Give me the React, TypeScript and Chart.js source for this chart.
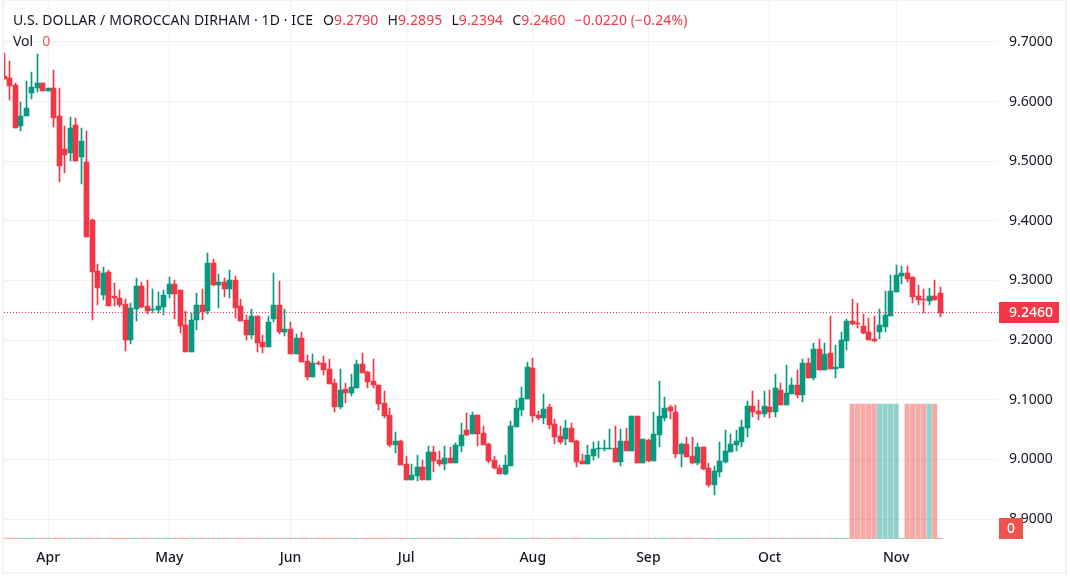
import { useEffect, useRef } from "react";
import { Chart, registerables } from "chart.js";

Chart.register(...registerables);

const days = [
  "Mar 20","Mar 21","Mar 24","Mar 25","Mar 26","Mar 27","Mar 28","Mar 31",
  "Apr 1","Apr 2","Apr 3","Apr 4","Apr 7","Apr 8","Apr 9","Apr 10","Apr 11","Apr 14","Apr 15","Apr 16","Apr 17","Apr 18","Apr 21","Apr 22","Apr 23","Apr 24","Apr 25","Apr 28","Apr 29","Apr 30",
  "May 1","May 2","May 5","May 6","May 7","May 8","May 9","May 12","May 13","May 14","May 15","May 16","May 19","May 20","May 21","May 22","May 23","May 26","May 27","May 28","May 29","May 30",
  "Jun 2","Jun 3","Jun 4","Jun 5","Jun 6","Jun 9","Jun 10","Jun 11","Jun 12","Jun 13","Jun 16","Jun 17","Jun 18","Jun 19","Jun 20","Jun 23","Jun 24","Jun 25","Jun 26","Jun 27","Jun 30",
  "Jul 1","Jul 2","Jul 3","Jul 4","Jul 7","Jul 8","Jul 9","Jul 10","Jul 11","Jul 14","Jul 15","Jul 16","Jul 17","Jul 18","Jul 21","Jul 22","Jul 23","Jul 24","Jul 25","Jul 28","Jul 29","Jul 30","Jul 31",
  "Aug 1","Aug 4","Aug 5","Aug 6","Aug 7","Aug 8","Aug 11","Aug 12","Aug 13","Aug 14","Aug 15","Aug 18","Aug 19","Aug 20","Aug 21","Aug 22","Aug 25","Aug 26","Aug 27","Aug 28","Aug 29",
  "Sep 1","Sep 2","Sep 3","Sep 4","Sep 5","Sep 8","Sep 9","Sep 10","Sep 11","Sep 12","Sep 15","Sep 16","Sep 17","Sep 18","Sep 19","Sep 22","Sep 23","Sep 24","Sep 25","Sep 26","Sep 29","Sep 30",
  "Oct 1","Oct 2","Oct 3","Oct 6","Oct 7","Oct 8","Oct 9","Oct 10","Oct 13","Oct 14","Oct 15","Oct 16","Oct 17","Oct 20","Oct 21","Oct 22","Oct 23","Oct 24","Oct 27","Oct 28","Oct 29","Oct 30","Oct 31",
  "Nov 3","Nov 4","Nov 5","Nov 6","Nov 7","Nov 10","Nov 11","Nov 12","Nov 13",
];

const opens = [
  9.6430,9.6396,9.6279,9.5592,9.5760,9.6145,9.6229,9.6312,
  9.6179,9.6229,9.5760,9.5206,9.5139,9.5609,9.5072,9.4988,9.4016,9.3161,9.2759,9.3144,9.2742,9.2709,9.2608,9.2004,9.2524,9.2910,9.2574,9.2507,9.2507,9.2558,
  9.2776,9.2943,9.2843,9.2256,9.1803,9.2340,9.2591,9.2491,9.3295,9.2926,9.2977,9.2860,9.3010,9.2574,9.2340,9.2088,9.2407,9.1971,9.1887,9.2357,9.2591,9.2138,
  9.2188,9.1770,9.2038,9.1652,9.1384,9.1619,9.1619,9.1518,9.1283,9.0881,9.1183,9.1116,9.1200,9.1602,9.1468,9.1317,9.1250,9.0948,9.0747,9.0244,9.0311,
  8.9926,8.9657,8.9724,8.9875,8.9657,9.0127,8.9993,8.9926,9.0026,8.9943,9.0227,9.0496,9.0429,9.0747,9.0445,9.0261,8.9993,8.9858,8.9758,8.9892,9.0546,9.0831,9.1016,
  9.1535,9.0747,9.0697,9.0881,9.0596,9.0395,9.0345,9.0529,9.0311,8.9976,8.9926,9.0060,9.0177,9.0177,9.0177,9.0194,8.9959,9.0311,9.0144,9.0730,8.9943,
  9.0328,8.9976,9.0412,9.0697,9.0881,9.0797,9.0093,9.0261,9.0060,8.9943,9.0210,8.9858,8.9573,8.9791,8.9959,9.0127,9.0244,9.0294,9.0529,9.0898,9.0814,9.0764,
  9.0881,9.0797,9.1166,9.0915,9.1099,9.1250,9.1083,9.1619,9.1367,9.1853,9.1501,9.1786,9.1518,9.1535,9.1987,9.2323,9.2290,9.2239,9.2138,9.2021,9.2138,9.2222,9.2407,
  9.2809,9.3077,9.3127,9.3060,9.2742,9.2692,9.2658,9.2742,9.2790,
];

const highs = [
  9.6815,9.6682,9.6312,9.5994,9.6346,9.6497,9.6798,9.6312,
  9.6229,9.6531,9.6229,9.5592,9.5743,9.5726,9.5558,9.5508,9.4033,9.3278,9.3228,9.3178,9.2960,9.2843,9.2692,9.2625,9.3044,9.2977,9.3010,9.2860,9.2809,9.2843,
  9.3060,9.3010,9.2843,9.2491,9.2457,9.2792,9.2860,9.3463,9.3362,9.3111,9.3044,9.3178,9.3077,9.2692,9.2424,9.2524,9.2407,9.2088,9.2407,9.3127,9.2993,9.2524,
  9.2306,9.2105,9.2138,9.1753,9.1770,9.1652,9.1736,9.1686,9.1350,9.1518,9.1283,9.1434,9.1669,9.1786,9.1484,9.1686,9.1250,9.1149,9.0864,9.0462,9.0328,
  9.0060,8.9926,9.0076,8.9993,9.0227,9.0227,9.0144,9.0227,9.0210,9.0278,9.0613,9.0781,9.0797,9.0747,9.0563,9.0278,9.0060,8.9909,9.0076,9.0646,9.0998,9.1217,9.1635,
  9.1702,9.0814,9.1099,9.0931,9.0680,9.0563,9.0663,9.0613,9.0328,9.0093,9.0244,9.0294,9.0311,9.0328,9.0512,9.0563,9.0512,9.0529,9.0730,9.0730,9.0345,
  9.0345,9.0797,9.1317,9.1049,9.0915,9.0915,9.0278,9.0378,9.0378,9.0278,9.0210,8.9943,8.9892,9.0294,9.0496,9.0429,9.0496,9.0663,9.0982,9.1149,9.0998,9.1149,
  9.1166,9.1434,9.1283,9.1585,9.1367,9.1501,9.1686,9.1702,9.1954,9.2021,9.1954,9.2407,9.1921,9.2138,9.2357,9.2692,9.2625,9.2440,9.2373,9.2407,9.2524,9.2826,9.3094,
  9.3262,9.3245,9.3245,9.3060,9.2926,9.2860,9.2876,9.3010,9.2895,
];

const lows = [
  9.6380,9.6028,9.5558,9.5508,9.5760,9.6044,9.6162,9.6179,
  9.6179,9.5575,9.4653,9.4804,9.5005,9.5005,9.4620,9.3731,9.2340,9.2591,9.2675,9.2574,9.2574,9.2558,9.1820,9.1937,9.2323,9.2541,9.2440,9.2457,9.2457,9.2424,
  9.2709,9.2357,9.2122,9.1803,9.1803,9.2172,9.2340,9.2440,9.2910,9.2541,9.2725,9.2709,9.2373,9.2323,9.2004,9.2021,9.1803,9.1786,9.1887,9.2306,9.2105,9.2071,
  9.1770,9.1770,9.1635,9.1333,9.1384,9.1585,9.1417,9.1267,9.0797,9.0847,9.0948,9.1066,9.1200,9.1451,9.1200,9.1200,9.0831,9.0697,9.0210,9.0110,8.9909,
  8.9657,8.9657,8.9640,8.9657,8.9657,8.9791,8.9892,8.9825,8.9943,8.9943,9.0127,9.0395,9.0429,9.0227,9.0244,8.9943,8.9842,8.9758,8.9741,8.9892,9.0546,9.0730,9.1016,
  9.0630,9.0663,9.0596,9.0512,9.0261,9.0261,9.0244,9.0294,8.9875,8.9926,8.9926,8.9993,9.0026,9.0144,9.0177,8.9959,8.9892,9.0144,9.0144,8.9943,8.9943,
  8.9959,8.9976,9.0210,9.0646,9.0680,9.0026,8.9875,9.0043,8.9926,8.9909,8.9825,8.9540,8.9406,8.9708,8.9943,9.0127,9.0144,9.0210,9.0378,9.0714,9.0663,9.0714,
  9.0697,9.0714,9.0915,9.0915,9.1099,9.1032,9.0965,9.1367,9.1333,9.1501,9.1501,9.1518,9.1367,9.1535,9.1837,9.2256,9.2205,9.2105,9.2004,9.1971,9.2021,9.2138,9.2407,
  9.2809,9.2943,9.2977,9.2625,9.2591,9.2457,9.2591,9.2675,9.2394,
];

const closes = [
  9.6380,9.6262,9.5558,9.5760,9.5894,9.6246,9.6312,9.6179,
  9.6229,9.5726,9.4921,9.5106,9.5558,9.5005,9.5341,9.3731,9.3144,9.2876,9.3127,9.2574,9.2709,9.2591,9.2004,9.2541,9.2910,9.2558,9.2491,9.2524,9.2574,9.2759,
  9.2943,9.2776,9.2239,9.1803,9.2340,9.2591,9.2474,9.3295,9.2926,9.2977,9.2860,9.3010,9.2541,9.2323,9.2088,9.2407,9.1954,9.1887,9.2306,9.2591,9.2138,9.2188,
  9.1770,9.2038,9.1635,9.1384,9.1619,9.1602,9.1501,9.1267,9.0881,9.1166,9.1116,9.1217,9.1602,9.1451,9.1300,9.1250,9.0931,9.0730,9.0244,9.0311,8.9909,
  8.9657,8.9741,8.9875,8.9657,9.0127,8.9976,8.9926,9.0026,8.9943,9.0244,9.0412,9.0412,9.0747,9.0429,9.0244,8.9976,8.9858,8.9758,8.9909,9.0563,9.0864,9.1032,9.1552,
  9.0730,9.0697,9.0847,9.0579,9.0378,9.0294,9.0529,9.0294,8.9959,8.9926,9.0076,9.0177,9.0194,9.0194,9.0194,8.9959,9.0311,9.0144,9.0730,8.9943,9.0345,
  8.9976,9.0429,9.0730,9.0864,9.0814,9.0093,9.0261,9.0043,8.9943,9.0210,8.9842,8.9573,8.9808,8.9976,9.0144,9.0261,9.0311,9.0546,9.0898,9.0797,9.0764,9.0898,
  9.0797,9.1200,9.0915,9.1116,9.1250,9.1083,9.1619,9.1367,9.1853,9.1501,9.1770,9.1518,9.1552,9.2004,9.2323,9.2273,9.2273,9.2122,9.2004,9.1987,9.2256,9.2424,9.2826,
  9.3094,9.3127,9.3027,9.2725,9.2675,9.2675,9.2742,9.2675,9.2460,
];

const volumes = [
  0,0,0,0,0,0,0,0,
  0,0,0,0,0,0,0,0,0,0,0,0,0,0,0,0,0,0,0,0,0,0,
  0,0,0,0,0,0,0,0,0,0,0,0,0,0,0,0,0,0,0,0,0,0,
  0,0,0,0,0,0,0,0,0,0,0,0,0,0,0,0,0,0,0,0,0,
  0,0,0,0,0,0,0,0,0,0,0,0,0,0,0,0,0,0,0,0,0,0,0,
  0,0,0,0,0,0,0,0,0,0,0,0,0,0,0,0,0,0,0,0,0,
  0,0,0,0,0,0,0,0,0,0,0,0,0,0,0,0,0,0,0,0,0,0,
  0,0,0,0,0,0,0,0,0,0,0,0,0,0,0,1,1,1,1,1,1,1,1,
  1,0,1,1,1,1,1,1,0,
];

const UP = "#089981";
const DOWN = "#F23645";
const VOL_UP = "rgba(38,166,154,0.5)";
const VOL_DOWN = "rgba(239,83,80,0.5)";
const GRID = "#f0f1f3";
const TEXT = "#131722";
const FONT = "'Noto Sans', sans-serif";

// empty slots to the right of the last bar, like the chart's free space
const labels = [...days, ...Array(10).fill("")];
const isUp = (i: number) => closes[i] >= opens[i];

// candles sit on whole pixels, otherwise the 1px wicks go blurry
const snapBars = {
  id: "snapBars",
  beforeDatasetsDraw(chart: any) {
    chart.data.datasets.forEach((ds: any, d: number) => {
      chart.getDatasetMeta(d).data.forEach((el: any) => {
        if (ds.label !== "Volume") el.x = Math.floor(el.x) + 0.5;
        el.y = Math.round(el.y);
        el.base = Math.round(el.base);
        if (el.y === el.base) el.base = el.y + 1;
      });
    });
  },
};

const priceTags = {
  id: "priceTags",
  afterDatasetsDraw(chart: any) {
    const { ctx, chartArea, scales } = chart;
    const y = Math.floor(scales.y.getPixelForValue(closes[closes.length - 1])) + 0.5;
    ctx.save();
    ctx.strokeStyle = DOWN;
    ctx.setLineDash([1, 2]);
    ctx.beginPath();
    ctx.moveTo(Math.round(chartArea.left), y);
    ctx.lineTo(Math.round(chartArea.right), y);
    ctx.stroke();
    ctx.restore();
  },
  afterDraw(chart: any) {
    const { ctx, chartArea, scales } = chart;
    const last = closes[closes.length - 1];
    const y = scales.y.getPixelForValue(last);
    ctx.save();
    ctx.fillStyle = DOWN;
    ctx.fillRect(chartArea.right + 1, Math.round(y - 10.5), 60, 21);
    ctx.fillStyle = "#fff";
    ctx.font = "500 14px " + FONT;
    ctx.textAlign = "center";
    ctx.textBaseline = "middle";
    ctx.fillText(last.toFixed(4), chartArea.right + 33, y + 0.5);
    const bottom = scales.yVol.getPixelForValue(0);
    ctx.fillStyle = "#ef5350";
    ctx.fillRect(chartArea.right + 1, bottom - 21, 24, 21);
    ctx.fillStyle = "#fff";
    ctx.fillText(String(volumes[volumes.length - 1]), chartArea.right + 13, bottom - 10);
    ctx.restore();
  },
};

const red = { color: DOWN };
const gap = { marginLeft: 9 };

export default function App() {
  const canvasRef = useRef<HTMLCanvasElement>(null);

  useEffect(() => {
    if (!canvasRef.current) return;
    const chart = new Chart(canvasRef.current, {
      type: "bar",
      data: {
        labels,
        datasets: [
          {
            label: "Volume",
            data: volumes,
            yAxisID: "yVol",
            grouped: false,
            order: 3,
            barThickness: 4.5,
            minBarLength: 1,
            backgroundColor: volumes.map((_, i) => (isUp(i) ? VOL_UP : VOL_DOWN)),
          },
          {
            label: "Wick",
            data: highs.map((h, i) => [lows[i], h]),
            yAxisID: "y",
            grouped: false,
            order: 2,
            barThickness: 1,
            backgroundColor: highs.map((_, i) => (isUp(i) ? UP : DOWN)),
          },
          {
            label: "Body",
            data: opens.map((o, i) => [o, closes[i]]),
            yAxisID: "y",
            grouped: false,
            order: 1,
            barThickness: 5,
            minBarLength: 1,
            backgroundColor: opens.map((_, i) => (isUp(i) ? UP : DOWN)),
          },
        ],
      },
      options: {
        responsive: false,
        animation: false,
        layout: { padding: { left: 1.45, top: 1, right: 0, bottom: 0 } },
        plugins: { legend: { display: false }, title: { display: false }, tooltip: { enabled: false } },
        scales: {
          x: {
            grid: { color: GRID, offset: false, tickLength: 0 },
            border: { display: false },
            afterBuildTicks: (axis: any) => {
              // keep only the first bar of each month
              axis.ticks = axis.ticks.filter((t: any) => {
                const cur = days[t.value];
                return t.value > 0 && cur && cur.slice(0, 3) !== days[t.value - 1].slice(0, 3);
              });
            },
            afterFit: (axis: any) => {
              axis.height = 38;
              axis.paddingLeft = 0;
              axis.paddingRight = 0;
            },
            ticks: {
              autoSkip: false,
              maxRotation: 0,
              padding: 11,
              color: TEXT,
              font: { family: FONT, size: 14, weight: 500 },
              callback(this: any, v: any) {
                return this.getLabelForValue(v).slice(0, 3);
              },
            },
          },
          y: {
            position: "right",
            min: 8.8665,
            max: 9.7687,
            grid: { color: GRID, tickLength: 0 },
            border: { display: false },
            afterFit: (axis: any) => {
              axis.width = 72;
              axis.paddingTop = 0;
              axis.paddingBottom = 0;
            },
            ticks: {
              stepSize: 0.1,
              includeBounds: false,
              padding: 11,
              color: TEXT,
              font: { family: FONT, size: 14 },
              callback: (v: any) => Number(v).toFixed(4),
            },
          },
          yVol: {
            display: false,
            position: "left",
            min: 0,
            max: 3.985,
            grid: { display: false },
          },
        },
      },
      plugins: [snapBars, priceTags],
    } as any);
    return () => chart.destroy();
  }, []);

  return (
    <div style={{ position: "absolute", left: 0, top: 0, width: 1070, height: 577, background: "#fff" }}>
      <div
        style={{
          position: "absolute",
          left: 2,
          top: 0,
          width: 1065,
          height: 574,
          boxSizing: "border-box",
          borderStyle: "solid",
          borderColor: "#f2f3f5",
          borderWidth: "1px 2px 2px 2px",
          overflow: "hidden",
        }}
      >
        <canvas
          ref={canvasRef}
          width={1070}
          height={577}
          style={{ position: "absolute", left: -4, top: -1, display: "block" }}
        />
      </div>
      <div style={{ position: "absolute", left: 13, top: 10, font: "14px " + FONT, letterSpacing: 0.1, color: TEXT, whiteSpace: "nowrap" }}>
        <span>U.S. DOLLAR / MOROCCAN DIRHAM · 1D · ICE</span>
        <span style={{ marginLeft: 10 }}>O<span style={red}>9.2790</span></span>
        <span style={gap}>H<span style={red}>9.2895</span></span>
        <span style={gap}>L<span style={red}>9.2394</span></span>
        <span style={gap}>C<span style={red}>9.2460</span></span>
        <span style={{ ...gap, ...red }}>−0.0220 (−0.24%)</span>
      </div>
      <div style={{ position: "absolute", left: 13, top: 31, font: "14px " + FONT, color: TEXT, whiteSpace: "nowrap" }}>
        Vol<span style={{ color: "#ef5350", marginLeft: 9 }}>0</span>
      </div>
    </div>
  );
}
